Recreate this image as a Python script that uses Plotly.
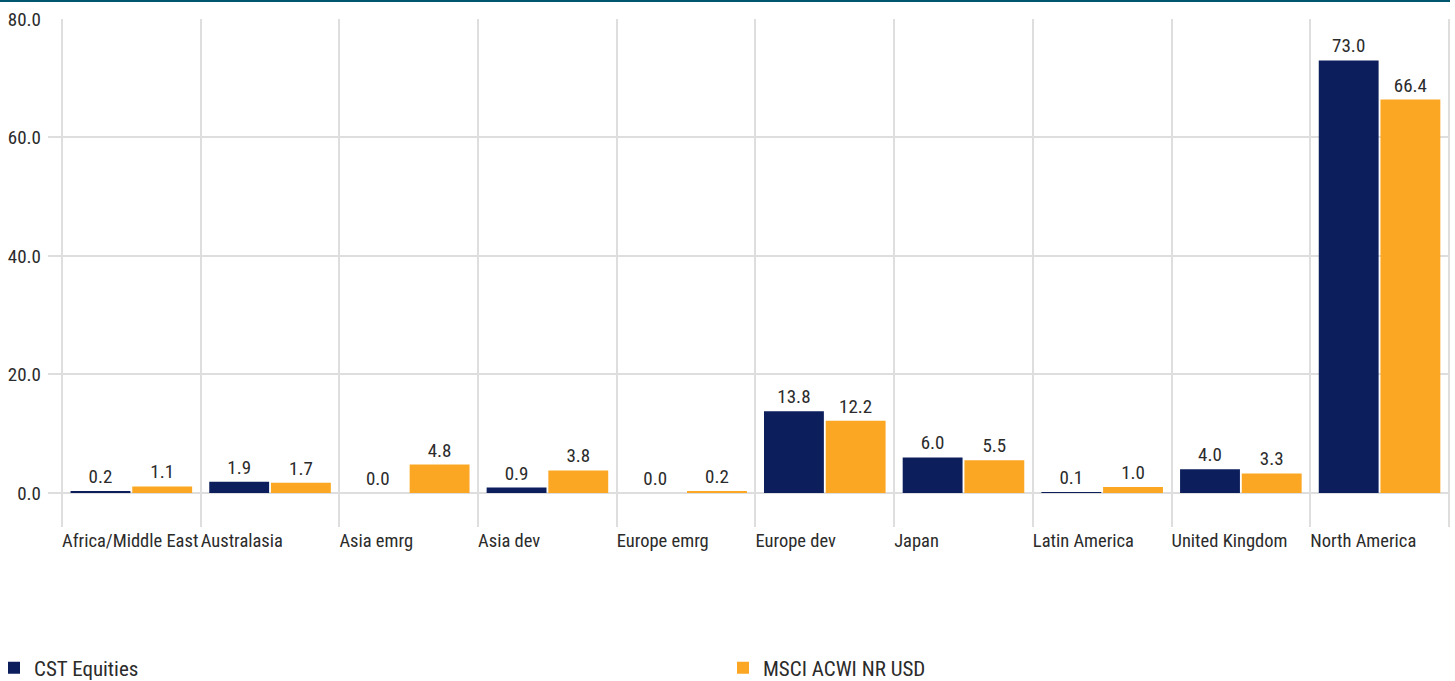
import plotly.graph_objects as go

categories = ["Africa/Middle East", "Australasia", "Asia emrg", "Asia dev", "Europe emrg",
              "Europe dev", "Japan", "Latin America", "United Kingdom", "North America"]
cst_equities = [0.2, 1.9, 0.0, 0.9, 0.0, 13.8, 6.0, 0.1, 4.0, 73.0]
msci_acwi = [1.1, 1.7, 4.8, 3.8, 0.2, 12.2, 5.5, 1.0, 3.3, 66.4]
series_names = ["CST Equities", "MSCI ACWI NR USD"]
y_ticks = [0, 20, 40, 60, 80]

FONT = "Liberation Sans Narrow, Arial Narrow, Roboto Condensed, Roboto, sans-serif"
NAVY = "#0c1f5c"
ORANGE = "#fba723"
GRID = "#dedede"
TXT = "#2b2b2b"

W, H = 1455, 681
ML, MR, MT, MB = 48, 5, 19, 154
PLOT_W = W - ML - MR
PLOT_H = H - MT - MB

# category slot centres on a numeric axis (slot i spans [i, i+1])
xpos = [i + 0.5 for i in range(len(categories))]

fig = go.Figure()
for name, vals, col, lg in [(series_names[0], cst_equities, NAVY, "legend"),
                            (series_names[1], msci_acwi, ORANGE, "legend2")]:
    fig.add_trace(go.Bar(
        x=xpos, y=vals, name=name, legend=lg,
        marker=dict(color=col, line=dict(width=0)),
        text=[f"{v:.1f}" for v in vals], textposition="outside",
        textfont=dict(family=FONT, size=19, color=TXT),
        cliponaxis=False,
    ))

legend_common = dict(
    orientation="h", xref="paper", yref="paper",
    xanchor="left", yanchor="middle",
    y=-(668 - MT - PLOT_H) / PLOT_H,
    font=dict(family=FONT, size=21, color=TXT),
    itemclick=False, itemdoubleclick=False,
    bgcolor="rgba(0,0,0,0)",
)

fig.update_layout(
    width=W, height=H,
    margin=dict(l=ML, r=MR, t=MT, b=MB, autoexpand=False),
    paper_bgcolor="white", plot_bgcolor="white",
    barmode="group", bargap=0.11, bargroupgap=0.03,
    font=dict(family=FONT, size=19, color=TXT),
    showlegend=True,
    legend=dict(legend_common, x=(-6 - ML) / PLOT_W),
    legend2=dict(legend_common, x=(723 - ML) / PLOT_W),
    xaxis=dict(
        range=[-0.101, 10.008], showgrid=True, gridcolor=GRID, gridwidth=2,
        tickvals=list(range(len(categories) + 1)),
        ticktext=categories + [""],
        ticklabelposition="outside right",
        ticks="", zeroline=False, showline=False, automargin=False,
        tickfont=dict(family=FONT, size=18.5, color=TXT),
    ),
    yaxis=dict(
        range=[-5.75, 80], tickvals=y_ticks, tickformat=".1f",
        showgrid=True, gridcolor=GRID, gridwidth=2,
        zeroline=False, showline=False, ticks="", automargin=False,
        ticklabelstandoff=6,
        tickfont=dict(family=FONT, size=19, color=TXT),
    ),
    shapes=[dict(type="line", xref="paper", yref="paper",
                 x0=-ML / PLOT_W, x1=1.0, y0=1 + 18 / PLOT_H, y1=1 + 18 / PLOT_H,
                 line=dict(color="#00566f", width=2))],
)

fig.write_html("out.html", config={"displayModeBar": False},
               post_script="document.body.style.margin='0';")
